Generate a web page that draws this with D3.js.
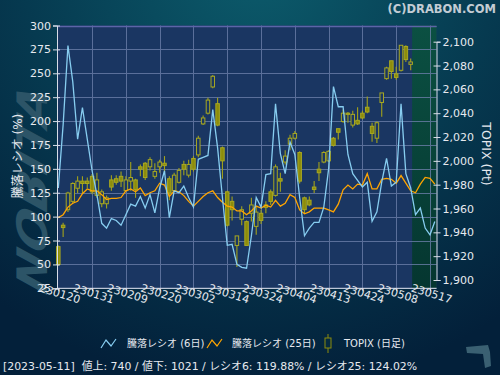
<!DOCTYPE html>
<html><head><meta charset="utf-8">
<script src="https://cdn.jsdelivr.net/npm/d3@7"></script>
<style>html,body{margin:0;padding:0;background:#05263a}svg{display:block}</style>
</head><body>
<svg id="c" width="500" height="375"></svg>
<script>
// ---------- data ----------
const tickLabels = ["230120","230131","230209","230220","230302","230314","230324","230404","230413","230424","230508","230517"];
const tickIndex = [0,7,14,21,28,35,42,49,56,63,70,77];
const leftTicks = [25,50,75,100,125,150,175,200,225,250,275,300];
const rightTicks = [1900,1920,1940,1960,1980,2000,2020,2040,2060,2080,2100];

const ratio6 = [130,196,279,241,181,214,181,148,123,93,88,98,96,91,102,113,111,121,109,123,104,130,148,99,127,125,132,120,110,160,162,164,212,172,120,70,71,50,47,46,80,120,110,144,145,218,166,145,178,165,120,80,88,94,94,110,150,236,215,215,165,145,138,131,136,95,105,136,161,132,136,218,145,130,102,109,88,81,95];
const ratio25 = [99,102,110,114,116,124,129,127,127,123,118,119,119,120,127,129,126,130,122,125,127,135,133,121,127,126,122,116,111,116,121,125,127,120,115,111,110,106,106,102,106,111,109,112,110,117,111,114,123,120,107,103,105,109,109,109,107,105,113,128,133,129,134,133,145,129,129,139,140,139,135,143,135,127,125,134,141,140,134];

const topixOpen  = [1928,1946,1959,1966,1977,1983,1983,1987,1971,1964,1964,1984,1985,1987,1975,1983,1984,1995,1998,1995,1987,1995,1998,1985,1975,1982,1997,1988,2002,2005,2031,2040,2062,2048,2011,1974,1966,1929,1951,1949,1956,1945,1956,1963,1974,1971,1985,1999,2014,2019,2007,1969,1967,1978,1993,1999,2000,2019,2027,2033,2040,2030,2034,2040,2045,2029,2019,2049,2069,2084,2073,2076,2096,2081];
const topixHigh  = [1929,1948,1974,1982,1987,1987,1986,1989,1990,1976,1971,1988,1988,1991,1987,1999,1985,1997,1999,2003,1998,2001,2004,1987,1990,1994,2000,2001,2004,2021,2038,2053,2072,2053,2012,1975,1970,1937,1962,1950,1969,1962,1959,1966,1976,1997,1990,2009,2022,2025,2008,1970,1970,1983,1999,2008,2009,2020,2027,2043,2041,2042,2045,2042,2054,2032,2033,2057,2079,2084,2079,2097,2097,2086];
const topixLow   = [1912,1936,1957,1964,1973,1973,1977,1972,1969,1961,1960,1975,1980,1978,1975,1975,1969,1987,1984,1992,1985,1990,1990,1967,1974,1981,1988,1986,1991,2003,2030,2039,2061,2029,1985,1945,1950,1911,1946,1929,1949,1938,1947,1956,1963,1970,1974,1997,2009,2018,1981,1956,1962,1973,1983,1998,1999,2012,2018,2032,2032,2028,2030,2035,2040,2016,2015,2037,2068,2069,2068,2075,2083,2076];
const topixClose = [1913,1944,1973,1981,1983,1981,1981,1974,1984,1974,1969,1978,1982,1983,1984,1986,1976,1993,1986,2001,1991,1999,1996,1973,1988,1992,1993,1997,1993,2019,2036,2051,2071,2030,2000,1946,1959,1937,1959,1929,1963,1957,1950,1961,1966,1995,1983,2004,2019,2023,1983,1959,1963,1976,1990,2007,2008,2013,2024,2040,2039,2039,2031,2036,2041,2023,2032,2057,2078,2075,2070,2097,2085,2083];

const legendItems = ["騰落レシオ (6日)","騰落レシオ (25日)","TOPIX (日足)"];
const statusText = "[2023-05-11]  値上: 740 / 値下: 1021 / レシオ6: 119.88% / レシオ25: 124.02%";

// ---------- layout ----------
const W = 500, H = 375;
const plot = {l:57, r:436.5, t:25.5, b:288.3};
const greenStart = 73.3;
const FONT = "'DejaVu Sans','Noto Sans CJK JP',sans-serif";

const svg = d3.select("#c");
const defs = svg.append("defs");

const bg = defs.append("radialGradient").attr("id","bg").attr("gradientUnits","userSpaceOnUse")
  .attr("cx",260).attr("cy",-40).attr("r",430);
bg.append("stop").attr("offset","0%").attr("stop-color","#0c5c6c");
bg.append("stop").attr("offset","55%").attr("stop-color","#063a50");
bg.append("stop").attr("offset","100%").attr("stop-color","#03203a");

const gz = defs.append("linearGradient").attr("id","gz").attr("x1",0).attr("y1",0).attr("x2",0).attr("y2",1);
gz.append("stop").attr("offset","0%").attr("stop-color","#0b5042");
gz.append("stop").attr("offset","100%").attr("stop-color","#053630");

svg.append("rect").attr("width",W).attr("height",H).attr("fill","url(#bg)");

// watermark (left) and logo (bottom right)
svg.append("text").attr("transform","translate(47,296) rotate(-90) skewX(-18)")
  .attr("font-family","'DejaVu Sans',sans-serif").attr("font-weight","bold").attr("font-style","italic")
  .attr("font-size",42).attr("fill","#2c5467").attr("textLength",205).attr("lengthAdjust","spacingAndGlyphs").text("NOBITA");
svg.append("path").attr("d","M466,347L488,345L490,352L491,366L485,368L483,354L467,353Z").attr("fill","#3a6072");

// scales
const x = d3.scaleLinear().domain([0,77]).range([58.3,430]);
const yL = d3.scaleLinear().domain([25,300]).range([plot.b, plot.t]);
const yR = d3.scaleLinear().domain([1900,2100]).range([280,41.7]);

// plot area
svg.append("rect").attr("x",plot.l).attr("y",plot.t).attr("width",plot.r-plot.l).attr("height",plot.b-plot.t).attr("fill","#1a3662");
svg.append("rect").attr("x",x(greenStart)).attr("y",plot.t).attr("width",plot.r-x(greenStart)).attr("height",plot.b-plot.t).attr("fill","url(#gz)");

// grid
const grid = svg.append("g").attr("stroke","#6b7ea8").attr("stroke-width",1).attr("opacity",0.8);
grid.selectAll("line.h").data(leftTicks).join("line")
  .attr("x1",plot.l).attr("x2",plot.r).attr("y1",d=>Math.round(yL(d))+0.5).attr("y2",d=>Math.round(yL(d))+0.5);
grid.selectAll("line.v").data(tickIndex.slice(1)).join("line")
  .attr("x1",d=>Math.round(x(d))+0.5).attr("x2",d=>Math.round(x(d))+0.5).attr("y1",plot.t).attr("y2",plot.b);
svg.append("line").attr("x1",plot.l).attr("x2",plot.r).attr("y1",Math.round(plot.t)+0.5).attr("y2",Math.round(plot.t)+0.5).attr("stroke","#5d64a8").attr("stroke-width",1.5);

// candles
const candles = d3.range(topixOpen.length).map(i=>({i,o:topixOpen[i],h:topixHigh[i],l:topixLow[i],c:topixClose[i]}));
const cg = svg.append("g");
const cw = 3.5;
cg.selectAll("line").data(candles).join("line")
  .attr("x1",d=>x(d.i)).attr("x2",d=>x(d.i)).attr("y1",d=>yR(d.h)).attr("y2",d=>yR(d.l))
  .attr("stroke","#a2a21a").attr("stroke-width",1.1);
cg.selectAll("rect").data(candles).join("rect")
  .attr("x",d=>x(d.i)-cw/2).attr("width",cw)
  .attr("y",d=>yR(Math.max(d.o,d.c))).attr("height",d=>Math.max(1.2,Math.abs(yR(d.o)-yR(d.c))))
  .attr("fill",d=>d.c>=d.o?"#1a3662":"#8c8c0c").attr("stroke","#a8a820").attr("stroke-width",1);

// lines
const lineGen = d3.line().x((d,i)=>x(i)).y(d=>yL(d));
svg.append("path").attr("d",lineGen(ratio25)).attr("fill","none").attr("stroke","#ffa500").attr("stroke-width",1.3);
svg.append("path").attr("d",lineGen(ratio6)).attr("fill","none").attr("stroke","#87cdf0").attr("stroke-width",1.3);

// axes
const axisColor = "#d8dde8";
const gL = svg.append("g").attr("transform",`translate(${plot.l},0)`)
  .call(d3.axisLeft(yL).tickValues(leftTicks).tickSize(4).tickPadding(2));
gL.selectAll("line").attr("stroke",axisColor).attr("x2",-4).attr("x1",3);
gL.select(".domain").attr("stroke",axisColor);
gL.selectAll("text").attr("fill","#e6e9ef").attr("font-size",11).attr("font-family",FONT);

const gR = svg.append("g").attr("transform",`translate(${plot.r},0)`)
  .call(d3.axisRight(yR).tickValues(rightTicks).tickSize(4).tickPadding(2).tickFormat(d3.format(",")));
gR.selectAll("line").attr("stroke",axisColor).attr("x1",-3);
gR.select(".domain").attr("stroke",axisColor);
gR.selectAll("text").attr("fill","#e6e9ef").attr("font-size",11).attr("font-family",FONT);

const gB = svg.append("g").attr("transform",`translate(0,${plot.b})`)
  .call(d3.axisBottom(x).tickValues(tickIndex).tickSize(3).tickFormat((d,i)=>tickLabels[i]));
gB.select(".domain").attr("stroke",axisColor).attr("d",`M${plot.l},0H${plot.r}`);
gB.selectAll("line").attr("stroke",axisColor);
gB.selectAll("text").attr("fill","#e6e9ef").attr("font-size",11).attr("font-family",FONT)
  .attr("text-anchor","middle").attr("dy",0).attr("y",0)
  .attr("transform","translate(0,9) rotate(17)");

// axis titles
svg.append("text").attr("transform","translate(22,156) rotate(-90)").attr("text-anchor","middle")
  .attr("fill","#e6e9ef").attr("font-size",12).attr("font-family",FONT).text("騰落レシオ (%)");
svg.append("text").attr("transform","translate(482,154) rotate(90)").attr("text-anchor","middle")
  .attr("fill","#e6e9ef").attr("font-size",12.5).attr("font-family",FONT).text("TOPIX (Pt)");

// copyright
svg.append("text").attr("x",496).attr("y",13).attr("text-anchor","end").attr("fill","#c3ccd4")
  .attr("font-size",11.5).attr("font-weight","bold").attr("font-family",FONT).text("(C)DRABON.COM");

// legend
const lg = svg.append("g").attr("font-family",FONT).attr("font-size",10).attr("fill","#e6e9ef");
const zig = (x0,y0)=>`M${x0},${y0+5}L${x0+5},${y0-3}L${x0+10},${y0+3}L${x0+15},${y0-4}`;
lg.append("path").attr("d",zig(101,343)).attr("fill","none").attr("stroke","#87cdf0").attr("stroke-width",1.2);
lg.append("text").attr("x",127).attr("y",347).text(legendItems[0]);
lg.append("path").attr("d",zig(207,343)).attr("fill","none").attr("stroke","#ffa500").attr("stroke-width",1.2);
lg.append("text").attr("x",232).attr("y",347).text(legendItems[1]);
lg.append("line").attr("x1",328).attr("x2",328).attr("y1",334).attr("y2",353).attr("stroke","#8c8c0c");
lg.append("rect").attr("x",325).attr("y",338).attr("width",6).attr("height",10).attr("fill","#052a40").attr("stroke","#8c8c0c");
lg.append("text").attr("x",344).attr("y",347).text(legendItems[2]);

// status
svg.append("text").attr("x",3).attr("y",370).attr("fill","#e6e9ef").attr("font-size",10.9)
  .attr("font-family",FONT).attr("xml:space","preserve").style("white-space","pre").text(statusText);
</script>
</body></html>
